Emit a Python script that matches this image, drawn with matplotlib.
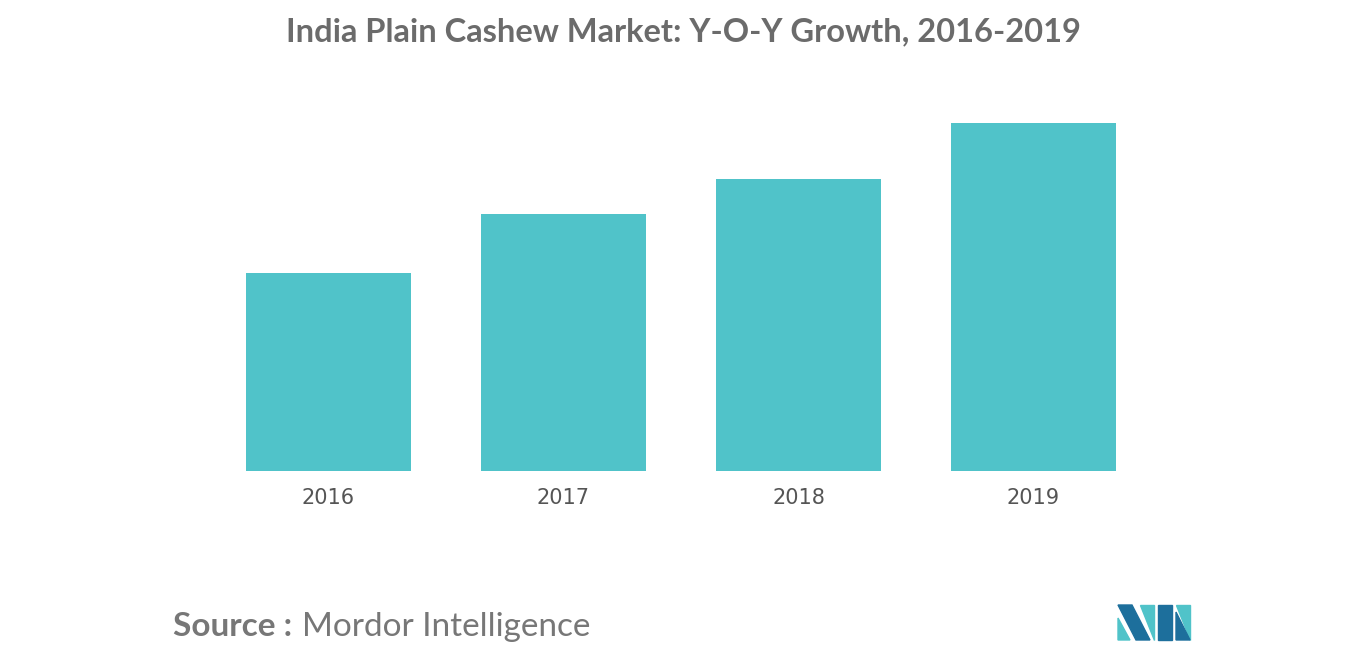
import matplotlib
matplotlib.use("Agg")
import matplotlib.pyplot as plt
from matplotlib.patches import Polygon

years = ["2016", "2017", "2018", "2019"]
values = [198, 257, 292, 348]

W, H = 1366, 655
fig = plt.figure(figsize=(W/100, H/100), dpi=100)
ax = fig.add_axes([211/W, (H-471)/H, 940/W, 371/H])
ax.bar(range(len(years)), values, width=0.702, color="#50c3c9")
ax.set_xlim(-0.5, 3.5)
ax.set_ylim(0, 371)
ax.set_xticks(range(len(years)))
ax.set_xticklabels(years, fontsize=15, color="#555555", family="Liberation Sans Narrow")
ax.tick_params(axis="x", length=0, pad=12)
ax.set_yticks([])
for s in ax.spines.values():
    s.set_visible(False)

fig.text(683/W, 1-32/H, "India Plain Cashew Market: Y-O-Y Growth, 2016-2019",
         ha="center", va="center", fontsize=23.5, fontweight="bold", color="#6b6b6b", family="Lato")
fig.text(173/W, 1-627/H, "Source :", ha="left", va="center", fontsize=24,
         fontweight="bold", color="#777777", family="Lato")
fig.text(302/W, 1-627/H, "Mordor Intelligence", ha="left", va="center", fontsize=24,
         color="#777777", family="Lato")

# logo
def P(pts, c):
    fig.patches.append(Polygon([(x/W, 1-y/H) for x, y in pts], closed=True,
                               transform=fig.transFigure, color=c))
P([(1118,605),(1132,605),(1150,640),(1136,640)], "#1d6f9c")
P([(1118,618),(1130,640),(1118,640)], "#50c3c9")
P([(1140,605),(1154,605),(1154,640)], "#50c3c9")
P([(1158,605),(1172,605),(1172,640),(1158,640)], "#1d6f9c")
P([(1176,605),(1190,605),(1190,640)], "#50c3c9")
P([(1176,612),(1190,640),(1176,640)], "#1d6f9c")

fig.savefig("out.png", dpi=100, facecolor="white")
